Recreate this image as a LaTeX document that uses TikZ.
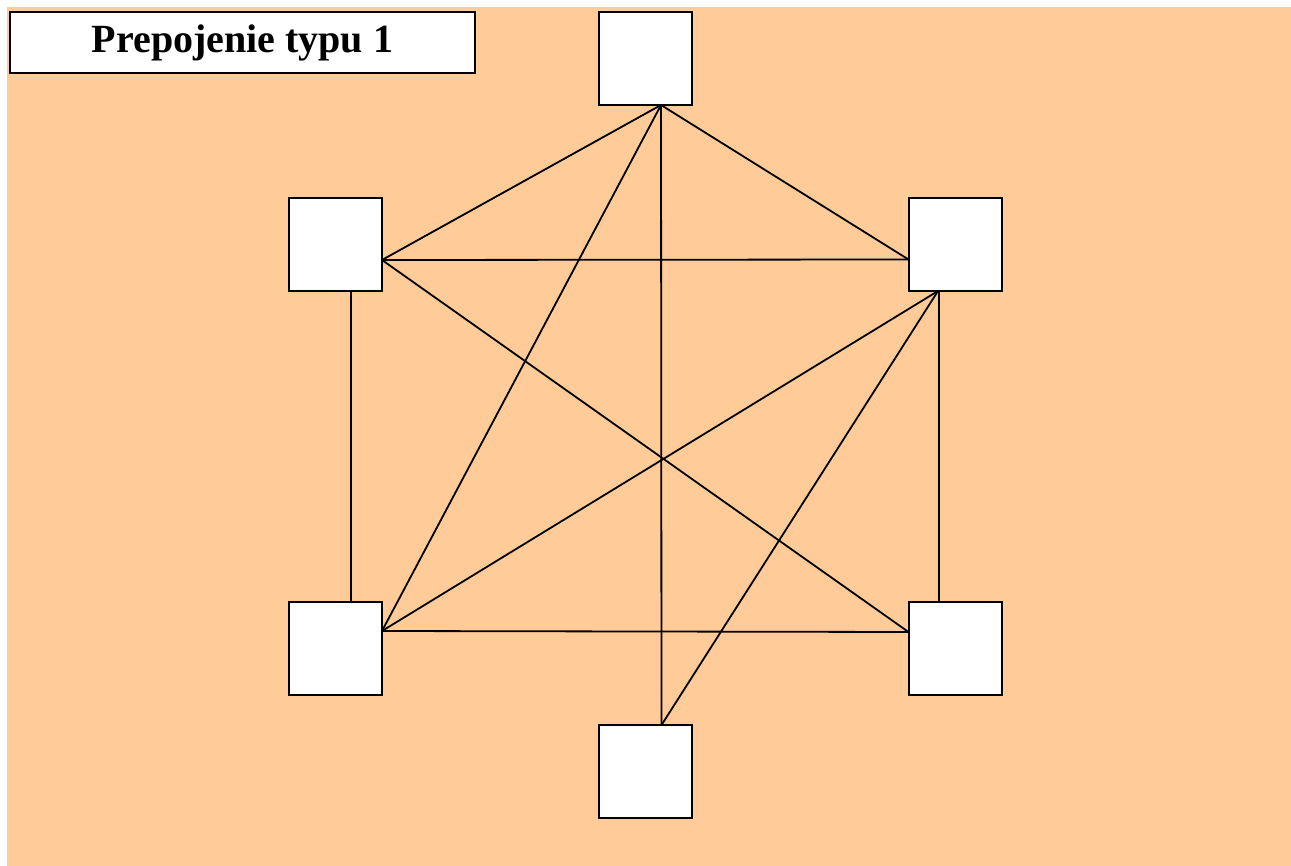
\documentclass[tikz,border=0pt]{standalone}
\usepackage{fontspec}
\setmainfont{Liberation Serif}
\definecolor{peach}{RGB}{254,203,153}

\begin{document}
\begin{tikzpicture}[x=1pt, y=-1pt,
  box/.style={draw, fill=white, line width=2pt, minimum width=93pt, minimum height=93pt, inner sep=0pt, outer sep=0pt},
  link/.style={line width=1.8pt}]
\useasboundingbox (0,0) rectangle (1291,866);
\fill[white] (0,0) rectangle (1291,866);
\fill[peach] (7,7) rectangle (1291,866); % background
\node[draw, fill=white, line width=2pt, minimum width=465pt, minimum height=61pt, inner sep=0pt, font=\bfseries\fontsize{40}{44}\selectfont] (title) at (242.5,42.5) {Prepojenie typu 1}; % title
\node[box] (top) at (645.5,58.5) {};
\node[box] (ul) at (335.5,244.5) {};
\node[box] (ur) at (955,244.5) {};
\node[box] (ll) at (335.5,648) {};
\node[box] (lr) at (955,648) {};
\node[box] (bot) at (645.5,771.5) {};
\coordinate (topS) at ([xshift=15.5pt]top.south);
\coordinate (ulE) at ([yshift=-15.5pt]ul.east);
\coordinate (urW) at ([yshift=-15pt]ur.west);
\coordinate (urS) at ([xshift=-17pt]ur.south);
\coordinate (llE) at ([yshift=17pt]ll.east);
\coordinate (lrW) at ([yshift=16pt]lr.west);
\draw[link] (topS) -- (ulE); % top to upper left
\draw[link] (topS) -- (urW); % top to upper right
\draw[link] (topS) -- ([xshift=16pt]bot.north); % top to bottom
\draw[link] (topS) -- (llE); % top to lower left
\draw[link] (ulE) -- (urW); % upper row
\draw[link] (ulE) -- (lrW); % upper left to lower right
\draw[link] ([xshift=15.5pt]ul.south) -- ([xshift=15.5pt]ll.north); % left side
\draw[link] (urS) -- (llE); % upper right to lower left
\draw[link] (urS) -- ([xshift=16pt]bot.north); % upper right to bottom
\draw[link] ([xshift=-16pt]ur.south) -- ([xshift=-16pt]lr.north); % right side
\draw[link] (llE) -- (lrW); % lower row
\end{tikzpicture}
\end{document}
